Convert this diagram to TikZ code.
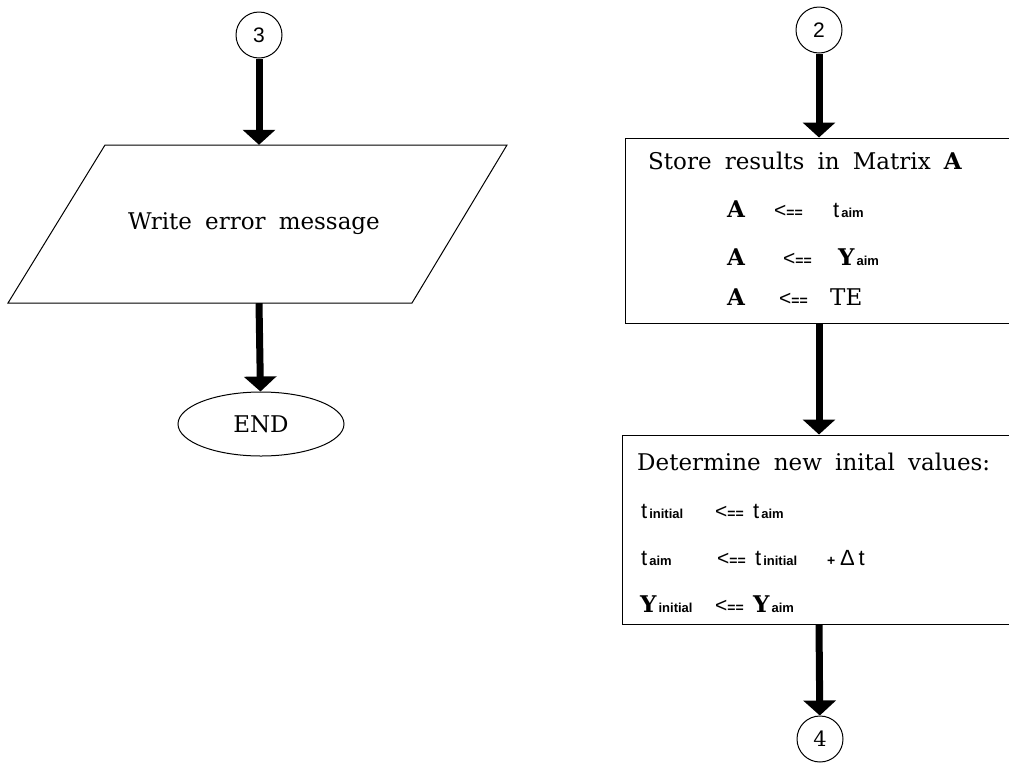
\documentclass[tikz,border=0pt]{standalone}
\usepackage{fontspec}
\setmainfont{DejaVu Serif}[WordSpace=1.8]
\setsansfont{Liberation Sans}
\usetikzlibrary{arrows.meta,shapes.geometric}

% pieces of the assignment lines
\newcommand\ssub[1]{\hspace{2pt}{\sffamily\bfseries\fontsize{13}{13}\selectfont #1}}
\newcommand\assign{{\sffamily\fontsize{21}{21}\selectfont <}{\sffamily\bfseries\fontsize{14}{14}\selectfont ==}}
\newcommand\tv{{\sffamily\fontsize{22}{22}\selectfont t}}
\newcommand\bA{{\bfseries A}}
\newcommand\bY{{\bfseries Y}}

\begin{document}
\begin{tikzpicture}[x=1pt,y=-1pt,
  outline/.style={draw=black,line width=1pt},
  conn/.style={outline,circle,minimum size=46pt,inner sep=0pt,font=\fontsize{21}{21}\selectfont},
  term/.style={outline,ellipse,minimum width=166pt,minimum height=64pt,inner sep=0pt,font=\fontsize{23}{27}\selectfont},
  iobox/.style={rectangle,minimum width=300pt,minimum height=158pt,inner sep=0pt,font=\fontsize{23}{27}\selectfont},
  proc/.style={outline,rectangle,inner sep=0pt},
  txt/.style={inner sep=0pt,anchor=base west,font=\fontsize{23}{27}\selectfont},
  flow/.style={line width=7pt,-{Triangle[width=32pt,length=15pt]}}]
\useasboundingbox (0,0) rectangle (1009,764);
\clip (0,0) rectangle (1009,764);

% ---- error branch ----
\node[conn] (c3) at (259,35) {\sffamily 3};
\node[iobox] (wr) at (254,224) {Write error message};
\draw[outline] (105,145) -- (507,145) -- (412,303) -- (8,303) -- cycle;
\node[term] (end) at (261,424) {END};
\draw[flow] (c3) -- (c3 |- wr.north);
\draw[flow] (c3 |- wr.south) -- (end);

% ---- result branch ----
\node[conn] (c2) at (819,30) {\sffamily 2};
\node[proc,minimum width=405pt,minimum height=185pt] (store) at (827.5,230.5) {};
\node[txt] (s0) at (648,169) {Store results in Matrix \bA};
\node[txt] (s1) at (727,217) {\makebox[47pt][l]{\bA}\makebox[59pt][l]{\assign}\tv\ssub{aim}};
\node[txt] (s2) at (727,265) {\makebox[56pt][l]{\bA}\makebox[55pt][l]{\assign}\bY\ssub{aim}};
\node[txt] (s3) at (727,305) {\makebox[52pt][l]{\bA}\makebox[51pt][l]{\assign}TE};

\node[proc,minimum width=408pt,minimum height=189pt] (newv) at (826,529.5) {};
\node[txt] (d0) at (637,470) {Determine new inital values:};
\node[txt] (d1) at (641,518) {\makebox[74pt][l]{\tv\ssub{initial}}\makebox[38pt][l]{\assign}\tv\ssub{aim}};
\node[txt] (d2) at (641,565) {\makebox[76pt][l]{\tv\ssub{aim}}\makebox[38pt][l]{\assign}\makebox[72pt][l]{\tv\ssub{initial}}\makebox[13pt][l]{\sffamily\bfseries\fontsize{14}{14}\selectfont +}{\sffamily\fontsize{22}{22}\selectfont Δ\,t}};
\node[txt] (d3) at (640,612) {\makebox[75pt][l]{\bY\ssub{initial}}\makebox[38pt][l]{\assign}\bY\ssub{aim}};

\node[conn] (c4) at (820,739) {4};

\draw[flow] (c2) -- (c2 |- store.north);
\draw[flow] (c2 |- store.south) -- (c2 |- newv.north);
\draw[flow] (c2 |- newv.south) -- (c4);
\end{tikzpicture}
\end{document}
